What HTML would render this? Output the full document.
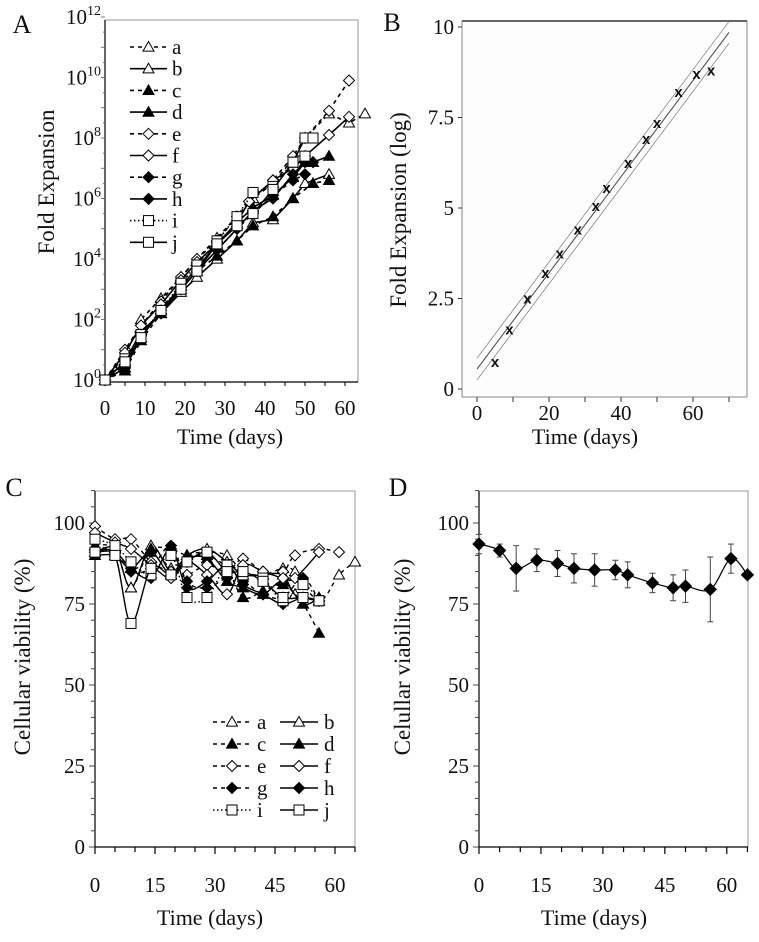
<!DOCTYPE html>
<html><head><meta charset="utf-8"><style>
html,body{margin:0;padding:0;background:#fff}
svg{display:block;font-family:"Liberation Serif",serif}
</style></head><body>
<svg id="fig" width="759" height="942" viewBox="0 0 759 942" xmlns="http://www.w3.org/2000/svg"></svg>
<script>
const seriesNames = ["a","b","c","d","e","f","g","h","i","j"];
const aDays = {
 a:[0,5,9,14,19,23,28,33,37,42,47,50,56,61,65],
 b:[0,5,9,14,19,23,28,33,37,42,47,50,56],
 c:[0,5,9,14,19,23,28,33,37,42,47,52,56],
 d:[0,5,9,14,19,23,28,33,37,42,47,50,52,56],
 e:[0,5,9,14,19,23,28,33,36,42,47,50,56,61],
 f:[0,5,9,14,19,23,28,33,36,42,47,50,56,61],
 g:[0,5,9,14,19,23,28,33,37,42,47,50],
 h:[0,5,9,14,19,23,28,33,37,42,47,50,52],
 i:[0,5,9,14,19,23,28,33,37,42,47,50],
 j:[0,5,9,14,19,23,28,33,37,42,47,50,52]
};
const aLog = {
 a:[0,0.8,2.0,2.7,3.4,4.0,4.7,5.4,6.0,6.5,7.3,8.0,8.8,8.5,8.8],
 b:[0,0.6,1.6,2.2,2.9,3.4,4.0,4.6,5.2,5.3,6.0,6.5,6.8],
 c:[0,0.3,1.3,2.2,3.0,3.6,4.1,4.6,5.1,5.4,6.0,6.5,6.6],
 d:[0,0.4,1.4,2.3,3.1,3.7,4.5,5.2,5.7,6.1,6.7,7.2,7.2,7.4],
 e:[0,1.0,1.8,2.6,3.4,4.0,4.6,5.4,5.9,6.6,7.4,8.0,8.9,9.9],
 f:[0,0.9,1.8,2.5,3.3,3.9,4.5,5.2,5.9,6.6,7.0,7.4,8.1,8.7],
 g:[0,0.5,1.5,2.3,3.1,3.6,4.3,5.0,5.5,6.1,6.6,6.8],
 h:[0,0.4,1.5,2.2,3.0,3.6,4.3,5.0,5.6,6.0,6.8,7.2,7.2],
 i:[0,0.7,1.5,2.3,3.2,3.8,4.6,5.4,6.2,6.4,7.2,7.4],
 j:[0,0.6,1.4,2.3,3.0,3.6,4.5,5.1,5.5,6.3,7.2,8.0,8.0]
};
const aYTicks = [0,2,4,6,8,10,12];
const aXTicks = [0,10,20,30,40,50,60];
const bDays = [5,9,14,19,23,28,33,36,42,47,50,56,61,65];
const bLog = [0.75,1.65,2.5,3.2,3.75,4.4,5.05,5.55,6.25,6.9,7.35,8.2,8.7,8.8];
const bFit = [[0,0.55],[70,9.85]];
const bCI = 0.3;
const bYTicks = [0,2.5,5,7.5,10];
const bYLabels = ["0","2.5","5","7.5","10"];
const bXTicks = [0,20,40,60];
const cDays = {
 a:[0,5,9,14,19,23,28,33,37,42,47,50,56,61,65],
 b:[0,5,9,14,19,23,28,33,37,42,47,50,56],
 c:[0,5,9,14,19,23,28,33,37,42,47,52,56],
 d:[0,5,9,14,19,23,28,33,37,42,47,52,56],
 e:[0,5,9,14,19,23,28,33,37,42,47,50,56,61],
 f:[0,5,9,14,19,23,28,33,37,42,47,50,56],
 g:[0,5,9,14,19,23,28,33,37,42,47,52,56],
 h:[0,5,9,14,19,23,28,33,37,42,47,52,56],
 i:[0,5,9,14,19,23,28,33,37,42,47,52,56],
 j:[0,5,9,14,19,23,28,33,37,42,47,52,56]
};
const cVia = {
 a:[93,92,80,92,86,90,91,90,85,84,86,85,76,84,88],
 b:[91,92,80,93,85,90,92,88,84,84,84,78,76],
 c:[93,91,86,92,92,90,90,86,77,79,81,75,66],
 d:[90,90,86,91,84,89,89,82,80,78,82,75,77],
 e:[99,95,95,88,85,84,87,85,89,85,85,90,92,91],
 f:[97,94,92,87,83,88,84,78,87,85,83,83,91],
 g:[91,91,85,86,93,82,80,83,82,78,77,83,76],
 h:[91,91,86,83,92,80,82,87,81,78,75,77,76],
 i:[95,93,88,84,90,77,77,87,84,83,76,81,76],
 j:[91,90,69,86,84,88,91,85,85,82,77,77,76]
};
const vYTicks = [0,25,50,75,100];
const vXTicks = [0,15,30,45,60];
const dDays = [0,5,9,14,19,23,28,33,36,42,47,50,56,61,65];
const dMean = [93.5,91.5,86,88.5,87.5,86,85.5,85.5,84,81.5,80,80.5,79.5,89,84];
const dErr  = [3,2,7,3.5,4,4.5,5,3,4,3,4,5,10,4.5,0];

const styles = {
 a:{dash:"4,4",marker:"tri",fill:"#fff"},
 b:{dash:"",marker:"tri",fill:"#fff"},
 c:{dash:"4,4",marker:"tri",fill:"#000"},
 d:{dash:"",marker:"tri",fill:"#000"},
 e:{dash:"4,4",marker:"dia",fill:"#fff"},
 f:{dash:"",marker:"dia",fill:"#fff"},
 g:{dash:"4,4",marker:"dia",fill:"#000"},
 h:{dash:"",marker:"dia",fill:"#000"},
 i:{dash:"1.5,2.5",marker:"sq",fill:"#fff"},
 j:{dash:"",marker:"sq",fill:"#fff"}
};
const TICK=21, TITLE=22, LET=26;

const NS="http://www.w3.org/2000/svg";
const svg=document.getElementById("fig");
function el(tag,attrs,parent){const e=document.createElementNS(NS,tag);for(const k in attrs)e.setAttribute(k,attrs[k]);(parent||svg).appendChild(e);return e;}
function txt(s,x,y,size,anchor,parent,rot){const t=el("text",{x:x,y:y,"font-size":size,"text-anchor":anchor||"middle",fill:"#111"},parent);if(rot)t.setAttribute("transform","rotate(-90 "+x+" "+y+")");t.textContent=s;return t;}
function marker(type,x,y,fill,parent,s){
 s=s||5.5;let m;
 if(type==="tri") m=el("polygon",{points:(x)+","+(y-s)+" "+(x-s)+","+(y+s*0.75)+" "+(x+s)+","+(y+s*0.75),fill:fill,stroke:"#000","stroke-width":1},parent);
 else if(type==="dia") m=el("polygon",{points:x+","+(y-s)+" "+(x+s)+","+y+" "+x+","+(y+s)+" "+(x-s)+","+y,fill:fill,stroke:"#000","stroke-width":1},parent);
 else m=el("rect",{x:x-s+0.5,y:y-s+0.5,width:2*s-1,height:2*s-1,fill:fill,stroke:"#000","stroke-width":1},parent);
 return m;
}
function smoothPath(pts){
 if(pts.length<2)return "";
 let d="M"+pts[0][0]+","+pts[0][1];
 for(let i=0;i<pts.length-1;i++){
  const p0=pts[Math.max(0,i-1)],p1=pts[i],p2=pts[i+1],p3=pts[Math.min(pts.length-1,i+2)];
  const t=6;
  d+=" C"+(p1[0]+(p2[0]-p0[0])/t)+","+(p1[1]+(p2[1]-p0[1])/t)+" "+(p2[0]-(p3[0]-p1[0])/t)+","+(p2[1]-(p3[1]-p1[1])/t)+" "+p2[0]+","+p2[1];
 }
 return d;
}

// Panel A
(function(){
 const L=105,R=358,T=20,B=382;
 const x=v=>105+v*4.0, y=v=>380-v*30.25;
 const g=el("g",{});
 
 
 const lab=txt("A",22,33,LET,"middle",g);
 
 
 const fr=el("rect",{x:L,y:T,width:R-L,height:B-T,fill:"none",stroke:"#999","stroke-width":1},g);
 
 
 el("line",{x1:L,y1:T,x2:L,y2:B,stroke:"#000","stroke-width":1.2},g);
 el("line",{x1:L,y1:B,x2:R,y2:B,stroke:"#000","stroke-width":1.2},g);
 for(let v=0;v<=12;v+=0.5){el("line",{x1:L-(v%1===0?4:2),y1:y(v),x2:L,y2:y(v),stroke:"#555","stroke-width":0.8},g);}
 for(let d=0;d<=60;d+=5){el("line",{x1:x(d),y1:B,x2:x(d),y2:B+4,stroke:"#000","stroke-width":1},g);}
 aYTicks.forEach(v=>{
  const t=el("text",{x:L-4,y:y(v)+7,"font-size":TICK,"text-anchor":"end",fill:"#111"},g);
  
  
  t.textContent="10";
  const s=el("tspan",{dy:-9,"font-size":14},t); s.textContent=String(v);
 });
 aXTicks.forEach(v=>{const t=txt(String(v),x(v),415,TICK,"middle",g);
  
  });
 const xt=txt("Time (days)",230,444,TITLE,"middle",g);
 
 
 const yt=txt("Fold Expansion",54,182,TITLE+1,"middle",g,true);
 
 
 seriesNames.forEach(n=>{
  const st=styles[n];
  const pts=aDays[n].map((d,i)=>[x(d),y(aLog[n][i])]);
  const p=el("polyline",{points:pts.map(q=>q.join(",")).join(" "),fill:"none",stroke:"#000","stroke-width":1.6,"stroke-dasharray":st.dash},g);
  
  
  pts.forEach(q=>{const m=marker(st.marker,q[0],q[1],st.fill,g,5.5);
   
   });
 });
 seriesNames.forEach((n,i)=>{
  const st=styles[n]; const yy=47+i*21.7;
  const lg=el("g",{},g);
  
  
  el("rect",{x:128,y:yy-10,width:60,height:20,fill:"#fff"},lg);
  el("line",{x1:130,y1:yy,x2:167,y2:yy,stroke:"#000","stroke-width":1.6,"stroke-dasharray":st.dash},lg);
  marker(st.marker,148.5,yy,st.fill,lg,5.5);
  txt(n,172,yy+7,TICK,"start",lg);
 });
})();

// Panel B
(function(){
 const L=462,R=747,T=21,B=397;
 const x=v=>477+v*3.6, y=v=>389-v*36.2;
 const g=el("g",{});
 
 
 const lab=txt("B",392,31,LET,"middle",g);
 
 
 const fr=el("rect",{x:L,y:T,width:R-L,height:B-T,fill:"#fdfdfd",stroke:"#888","stroke-width":1},g);
 
 
 el("line",{x1:L,y1:T,x2:R,y2:T,stroke:"#666","stroke-width":2},g);
 bYTicks.forEach((v,i)=>{
  el("line",{x1:L-4,y1:y(v),x2:L,y2:y(v),stroke:"#333"},g);
  const t=txt(bYLabels[i],L-8,y(v)+7,TICK,"end",g);
  
  
 });
 for(let d=0;d<=70;d+=10) el("line",{x1:x(d),y1:B,x2:x(d),y2:B+5,stroke:"#333"},g);
 bXTicks.forEach(v=>{const t=txt(String(v),x(v),420,TICK,"middle",g);
  
  });
 const xt=txt("Time (days)",585,444,TITLE,"middle",g);
 
 
 const yt=txt("Fold Expansion (log)",406,210,TITLE+1,"middle",g,true);
 
 
 const fit=el("line",{x1:x(bFit[0][0]),y1:y(bFit[0][1]),x2:x(bFit[1][0]),y2:y(bFit[1][1]),stroke:"#444","stroke-width":1},g);
 
 
 [bCI,-bCI].forEach(c=>{const l=el("line",{x1:x(bFit[0][0]),y1:y(bFit[0][1]+c),x2:x(bFit[1][0]),y2:y(bFit[1][1]+c),stroke:"#888","stroke-width":0.8},g);
  
  });
 bDays.forEach((d,i)=>{
  const t=el("text",{x:x(d),y:y(bLog[i])+5,"font-size":15,"text-anchor":"middle","font-weight":"bold","font-family":"Liberation Sans, sans-serif",fill:"#111"},g);
  
  
  t.textContent="x";
 });
})();

// Panel C
(function(){
 const L=95,R=355,T=491,B=847;
 const x=v=>95+v*4.0, y=v=>847-v*3.24;
 const g=el("g",{});
 
 
 const lab=txt("C",14,496,LET,"middle",g);
 
 
 el("rect",{x:L,y:T,width:R-L,height:B-T,fill:"none",stroke:"#999","stroke-width":1},g);
 el("line",{x1:L,y1:T,x2:L,y2:B,stroke:"#000","stroke-width":1.2},g);
 el("line",{x1:L,y1:B,x2:R,y2:B,stroke:"#000","stroke-width":1.2},g);
 for(let v=0;v<=110;v+=5) el("line",{x1:L-(v%25===0?6:4),y1:y(v),x2:L,y2:y(v),stroke:"#444"},g);
 for(let d=0;d<=65;d+=5) el("line",{x1:x(d),y1:B,x2:x(d),y2:B+(d%15===0?7:5),stroke:"#000","stroke-width":1.2},g);
 vYTicks.forEach(v=>{const t=txt(String(v),L-10,y(v)+7,TICK,"end",g);
  
  });
 vXTicks.forEach(v=>{const t=txt(String(v),x(v),892,TICK,"middle",g);
  
  });
 const xt=txt("Time (days)",210,925,TITLE,"middle",g);
 
 
 const yt=txt("Cellular viability (%)",30,657,TITLE+1,"middle",g,true);
 
 
 seriesNames.forEach(n=>{
  const st=styles[n];
  const pts=cDays[n].map((d,i)=>[x(d),y(cVia[n][i])]);
  const p=el("path",{d:smoothPath(pts),fill:"none",stroke:"#000","stroke-width":1.4,"stroke-dasharray":st.dash},g);
  
  
  pts.forEach(q=>{const m=marker(st.marker,q[0],q[1],st.fill,g,5.5);
   
   });
 });
 seriesNames.forEach((n,i)=>{
  const st=styles[n]; const col=i%2, row=Math.floor(i/2);
  const yy=722+row*22, x0=col?280:213;
  const lg=el("g",{},g);
  
  
  el("line",{x1:x0,y1:yy,x2:x0+38,y2:yy,stroke:"#000","stroke-width":1.6,"stroke-dasharray":st.dash},lg);
  marker(st.marker,x0+19,yy,st.fill,lg,5.5);
  txt(n,x0+44,yy+7,TICK,"start",lg);
 });
})();

// Panel D
(function(){
 const L=479,R=748,T=491,B=847;
 const x=v=>479+v*4.13, y=v=>847-v*3.24;
 const g=el("g",{});
 
 
 const lab=txt("D",398,496,LET,"middle",g);
 
 
 el("rect",{x:L,y:T,width:R-L,height:B-T,fill:"none",stroke:"#999","stroke-width":1},g);
 el("line",{x1:L,y1:T,x2:L,y2:B,stroke:"#000","stroke-width":1.2},g);
 el("line",{x1:L,y1:B,x2:R,y2:B,stroke:"#000","stroke-width":1.2},g);
 for(let v=0;v<=110;v+=5) el("line",{x1:L-(v%25===0?6:4),y1:y(v),x2:L,y2:y(v),stroke:"#444"},g);
 for(let d=0;d<=65;d+=5) el("line",{x1:x(d),y1:B,x2:x(d),y2:B+(d%15===0?7:5),stroke:"#000","stroke-width":1.2},g);
 vYTicks.forEach(v=>{const t=txt(String(v),L-10,y(v)+7,TICK,"end",g);
  
  });
 vXTicks.forEach(v=>{const t=txt(String(v),x(v),892,TICK,"middle",g);
  
  });
 const xt=txt("Time (days)",594,925,TITLE,"middle",g);
 
 
 const yt=txt("Celullar viability (%)",410,657,TITLE+1,"middle",g,true);
 
 
 const pts=dDays.map((d,i)=>[x(d),y(dMean[i])]);
 dDays.forEach((d,i)=>{
  if(!dErr[i])return;
  const eb=el("g",{},g);
  
  
  el("line",{x1:x(d),y1:y(dMean[i]-dErr[i]),x2:x(d),y2:y(dMean[i]+dErr[i]),stroke:"#444","stroke-width":1},eb);
  [dErr[i],-dErr[i]].forEach(e=>el("line",{x1:x(d)-3,y1:y(dMean[i]+e),x2:x(d)+3,y2:y(dMean[i]+e),stroke:"#444"},eb));
 });
 const p=el("path",{d:smoothPath(pts),fill:"none",stroke:"#000","stroke-width":1.2},g);
 
 
 pts.forEach(q=>{const m=marker("dia",q[0],q[1],"#000",g,6);
  
  });
})();
</script>
</body></html>
